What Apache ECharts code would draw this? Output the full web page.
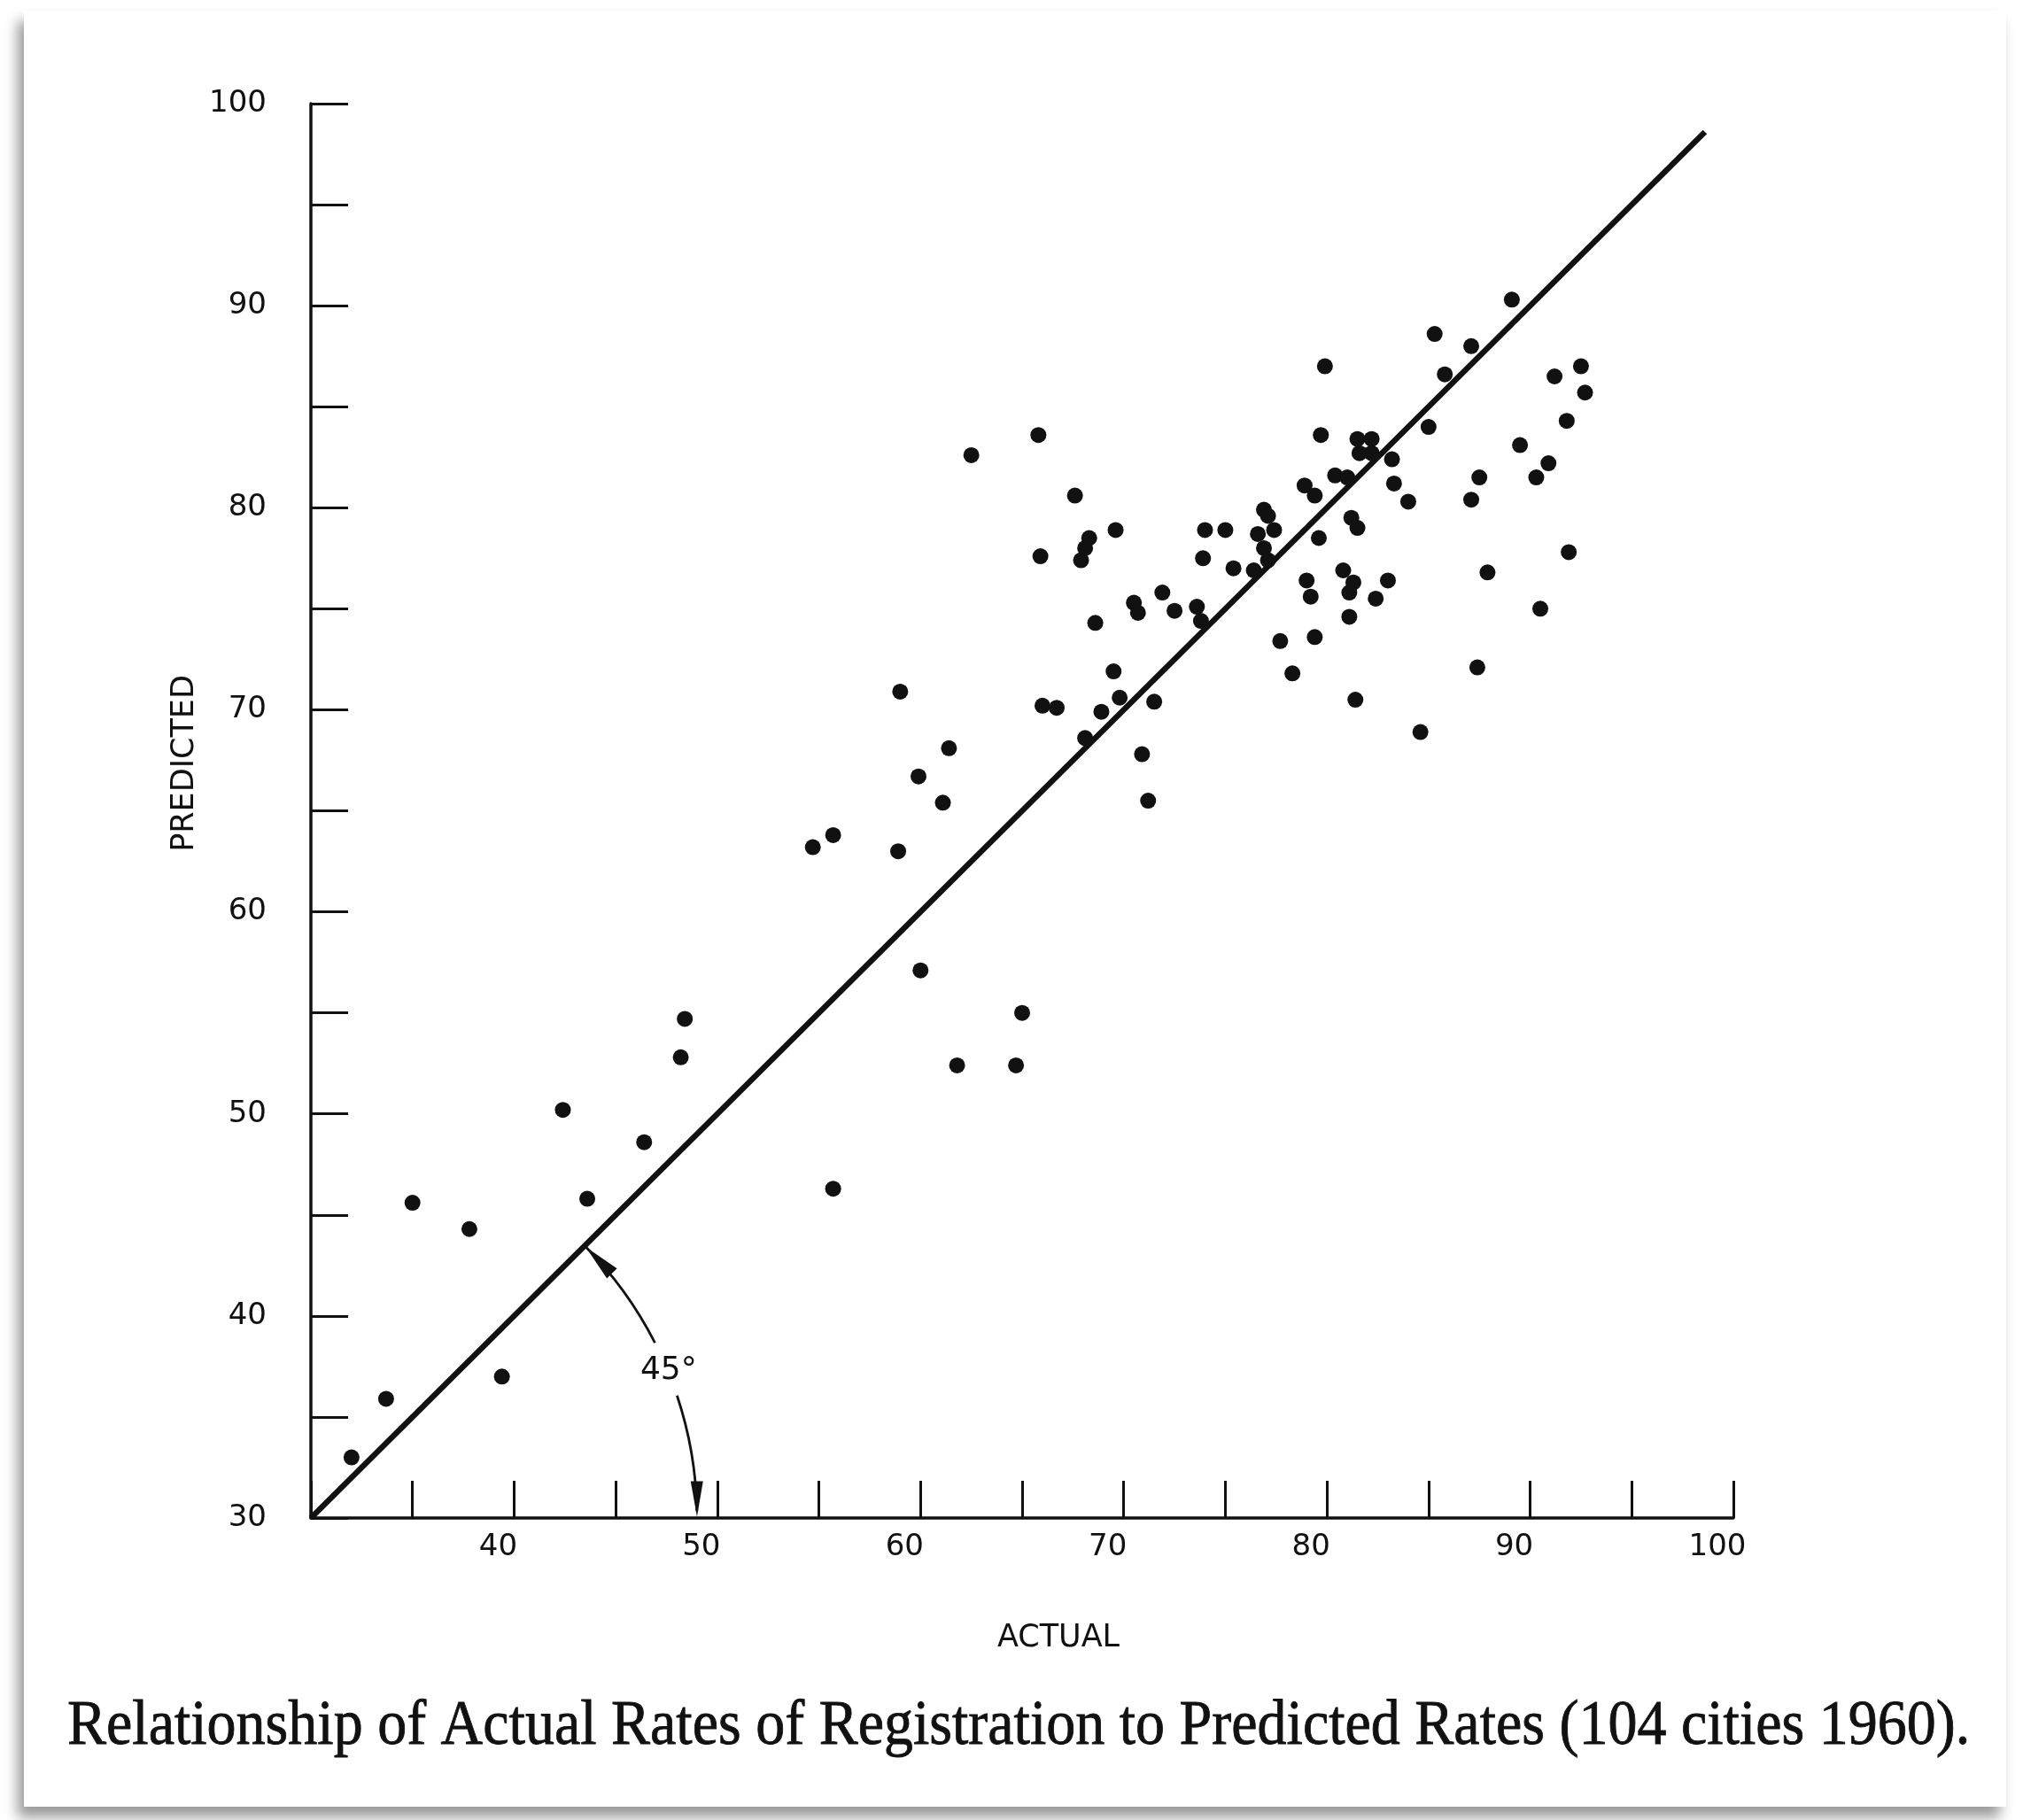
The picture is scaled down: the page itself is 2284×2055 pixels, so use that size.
<!DOCTYPE html>
<html>
<head>
<meta charset="utf-8">
<script src="https://cdn.jsdelivr.net/npm/echarts@6/dist/echarts.min.js"></script>
<style>
  html, body { margin: 0; padding: 0; background: #ffffff; }
  #page { position: absolute; left: 0; top: 0; width: 2284px; height: 2055px; background: #ffffff; overflow: hidden; }
  #card { position: absolute; left: 27px; top: 12px; width: 2238px; height: 2028px; background: #ffffff;
          box-shadow: -7px 12px 14px rgba(0,0,0,0.40); }
  #chart { position: absolute; left: 0; top: 0; width: 2284px; height: 2055px; }
</style>
</head>
<body>
<div id="page">
  <div id="card"></div>
  <div id="chart"></div>
</div>
<script>
// ---- data ----
const actualRates = [
  32.0, 33.7, 35.0, 37.8, 39.4, 42.4, 43.6, 46.4, 48.2, 48.4,
  54.7, 55.7, 55.7, 58.9, 59.0, 59.9, 60.0, 61.1, 61.4, 61.8,
  62.5, 64.7, 65.0, 65.8, 65.9, 66.0, 66.7, 67.6, 67.9, 68.1,
  68.3, 68.1, 68.6, 68.9, 69.5, 69.6, 69.8, 70.5, 70.7, 70.9,
  71.2, 71.5, 71.9, 72.5, 73.6, 73.8, 73.9, 74.0, 75.0, 75.4,
  76.4, 76.6, 76.9, 76.9, 77.1, 77.4, 77.7, 78.3, 78.9, 79.0,
  79.2, 79.4, 79.4, 79.6, 79.7, 79.9, 80.4, 80.8, 81.0, 81.1,
  81.1, 81.2, 81.3, 81.4, 81.5, 81.5, 81.6, 82.2, 82.2, 82.4,
  83.0, 83.2, 83.3, 84.0, 84.6, 85.0, 85.3, 85.8, 87.1, 87.1,
  87.5, 87.4, 87.9, 89.1, 89.5, 90.3, 90.5, 90.9, 91.2, 91.8,
  91.9, 92.5, 92.7, 77.1
];
const predictedRates = [
  33.0, 35.9, 45.6, 44.3, 37.0, 50.2, 45.8, 48.6, 52.8, 54.7,
  63.2, 63.8, 46.3, 63.0, 70.9, 66.7, 57.1, 65.4, 68.1, 52.4,
  82.6, 52.4, 55.0, 83.6, 77.6, 70.2, 70.1, 80.6, 77.4, 78.0,
  78.5, 68.6, 74.3, 69.9, 71.9, 78.9, 70.6, 75.3, 74.8, 67.8,
  65.5, 70.4, 75.8, 74.9, 75.1, 74.4, 77.5, 78.9, 78.9, 77.0,
  76.9, 78.7, 79.9, 78.0, 79.6, 78.9, 73.4, 71.8, 81.1, 76.4,
  75.6, 80.6, 73.6, 78.5, 83.6, 87.0, 81.6, 76.9, 81.5, 74.6,
  75.8, 79.5, 76.3, 70.5, 79.0, 83.4, 82.7, 83.4, 82.7, 75.5,
  76.4, 82.4, 81.2, 80.3, 68.9, 84.0, 88.6, 86.6, 88.0, 80.4,
  81.5, 72.1, 76.8, 90.3, 83.1, 81.5, 75.0, 82.2, 86.5, 84.3,
  77.8, 87.0, 85.7, 77.4
];
// 45-degree reference line (actual = predicted)
const lineActual = [30, 98.6];
const linePredicted = [30, 98.6];
// tick labels
const xTickLabels = [40, 50, 60, 70, 80, 90, 100];
const yTickLabels = [30, 40, 50, 60, 70, 80, 90, 100];
// 45° annotation: arc radius (in axis units) and label position
const arcRadius = [19];
const angleLabelAt = [47.6, 37.3];

const INK = '#111111';
const SANS = 'DejaVu Sans';

const scatterData = actualRates.map((a, i) => [a, predictedRates[i]]);
const lineData = lineActual.map((a, i) => [a, linePredicted[i]]);

const chart = echarts.init(document.getElementById('chart'), null, { renderer: 'canvas' });

const option = {
  backgroundColor: 'transparent',
  animation: false,
  grid: { left: 351, top: 117, width: 1606, height: 1597, containLabel: false },
  xAxis: {
    type: 'value', min: 30, max: 100, interval: 5,
    axisLine: { onZero: false, lineStyle: { color: INK, width: 3.5 } },
    axisTick: { inside: true, length: 42, lineStyle: { color: INK, width: 3 } },
    splitLine: { show: false },
    axisLabel: {
      margin: 16, color: INK, fontFamily: SANS, fontSize: 34,
      padding: [0, 36, 0, 0],
      formatter: v => (xTickLabels.indexOf(v) >= 0 ? String(v) : '')
    }
  },
  yAxis: {
    type: 'value', min: 30, max: 100, interval: 5,
    axisLine: { onZero: false, lineStyle: { color: INK, width: 3.5 } },
    axisTick: { inside: true, length: 42, lineStyle: { color: INK, width: 3 } },
    splitLine: { show: false },
    axisLabel: {
      margin: 50, color: INK, fontFamily: SANS, fontSize: 34,
      formatter: v => (yTickLabels.indexOf(v) >= 0 ? String(v) : '')
    }
  },
  series: [
    {
      type: 'line', data: lineData, showSymbol: false, symbol: 'none',
      lineStyle: { color: INK, width: 6.5 }, z: 2, silent: true
    },
    {
      type: 'scatter', data: scatterData, symbol: 'circle', symbolSize: 18,
      itemStyle: { color: INK, opacity: 1 }, z: 3
    }
  ]
};
chart.setOption(option);

// ---- annotations, positioned through the chart's own scales ----
const px = p => chart.convertToPixel({ gridIndex: 0 }, p);
const c = px([30, 30]);
const rPx = px([30 + arcRadius[0], 30])[0] - c[0];
const deg = Math.PI / 180;

function arrow(thetaDeg, dirSign, L, w) {
  const t = thetaDeg * deg;
  const tip = [c[0] + rPx * Math.cos(t), c[1] - rPx * Math.sin(t)];
  const d = [-Math.sin(t) * dirSign, -Math.cos(t) * dirSign];
  const n = [-d[1], d[0]];
  const b = [tip[0] - L * d[0], tip[1] - L * d[1]];
  return {
    type: 'polygon', z: 10,
    shape: { points: [tip, [b[0] + w * n[0], b[1] + w * n[1]], [b[0] - w * n[0], b[1] - w * n[1]]] },
    style: { fill: INK }
  };
}

const lbl = px(angleLabelAt);
chart.setOption({
  graphic: [
    {
      type: 'arc', z: 10,
      shape: { cx: c[0], cy: c[1], r: rPx, startAngle: -45 * deg, endAngle: -27 * deg, clockwise: true },
      style: { stroke: INK, lineWidth: 2.8, fill: null }
    },
    {
      type: 'arc', z: 10,
      shape: { cx: c[0], cy: c[1], r: rPx, startAngle: -18.5 * deg, endAngle: -1 * deg, clockwise: true },
      style: { stroke: INK, lineWidth: 2.8, fill: null }
    },
    arrow(44.6, 1, 42, 8),
    arrow(0.2, -1, 40, 7),
    {
      type: 'text', z: 10, x: lbl[0], y: lbl[1],
      style: { text: '45°', fill: INK, font: '36px "DejaVu Sans"', textAlign: 'center', textVerticalAlign: 'middle' }
    },
    {
      type: 'text', z: 10, x: 1195, y: 1850,
      style: { text: 'ACTUAL', fill: INK, font: '35px "DejaVu Sans"', textAlign: 'center', textVerticalAlign: 'middle' }
    },
    {
      type: 'text', z: 10, x: 209, y: 862, rotation: Math.PI / 2,
      style: { text: 'PREDICTED', fill: INK, font: '35px "DejaVu Sans"', textAlign: 'center', textVerticalAlign: 'middle' }
    },
    {
      type: 'text', z: 10, x: 76, y: 1950, scaleY: 1.1,
      style: {
        text: 'Relationship of Actual Rates of Registration to Predicted Rates (104 cities 1960).',
        fill: INK, stroke: INK, lineWidth: 0.8,
        font: '66px "Liberation Serif"', textAlign: 'left', textVerticalAlign: 'middle'
      }
    }
  ]
});
</script>
</body>
</html>
